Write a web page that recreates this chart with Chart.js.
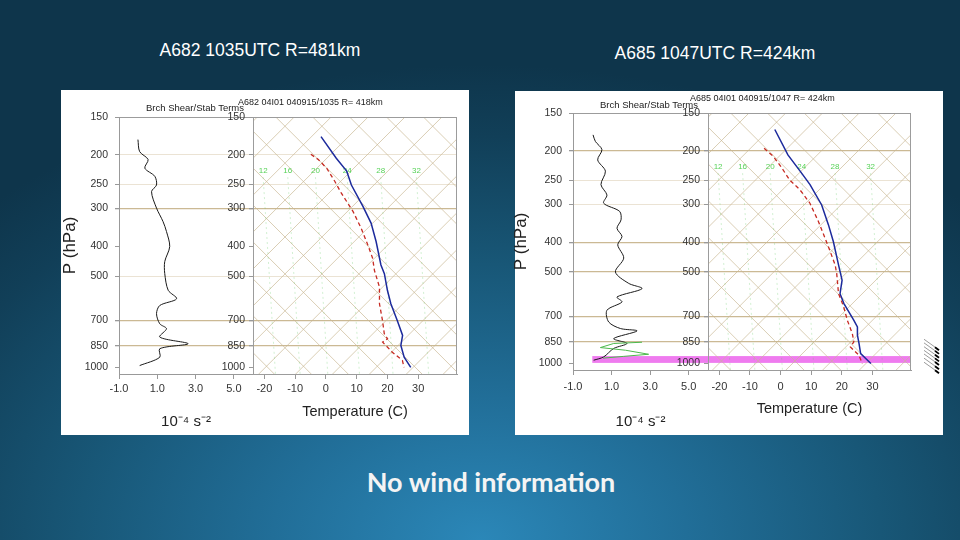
<!DOCTYPE html>
<html>
<head>
<meta charset="utf-8">
<script src="https://cdn.jsdelivr.net/npm/chart.js@4.4.1/dist/chart.umd.min.js"></script>
<style>
  html, body { margin: 0; width: 960px; height: 540px; overflow: hidden; }
  body {
    position: relative;
    font-family: 'Liberation Sans', Arial, sans-serif;
    background: radial-gradient(ellipse 72% 88% at 50% 100%, #2b87b8 0%, #216e98 30%, #185777 58%, #113f58 85%, #0e354b 100%);
  }
  .panel { position: absolute; background: #fff; }
  .title { position: absolute; color: #fff; font-size: 17.5px; white-space: nowrap; transform: translate(-50%, -50%); }
  .note { position: absolute; color: #f4f4f4; font: bold 27px Lato, 'Open Sans', sans-serif; white-space: nowrap; transform: translate(-50%, -50%); }
  .hdr { position: absolute; color: #222; white-space: nowrap; line-height: 11px; }
  canvas { position: absolute; }
</style>
</head>
<body>
<div class="title" style="left:260px;top:50px">A682 1035UTC R=481km</div>
<div class="title" style="left:715px;top:53px">A685 1047UTC R=424km</div>

<div class="panel" style="left:61px;top:90px;width:408px;height:345px"></div>
<div class="panel" style="left:515px;top:91px;width:428px;height:344px"></div>

<canvas id="shearL" width="410" height="345" style="left:60px;top:90px"></canvas>
<canvas id="skewL" width="410" height="345" style="left:60px;top:90px"></canvas>
<canvas id="shearR" width="434" height="347" style="left:511px;top:88px"></canvas>
<canvas id="skewR" width="434" height="347" style="left:511px;top:88px"></canvas>

<div class="hdr" style="left:146px;top:102px;font-size:9.5px">Brch Shear/Stab Terms</div>
<div class="hdr" style="left:238px;top:97px;font-size:9px">A682 04I01 040915/1035 R= 418km</div>
<div class="hdr" style="left:600px;top:99px;font-size:9.5px">Brch Shear/Stab Terms</div>
<div class="hdr" style="left:690px;top:93px;font-size:9px">A685 04I01 040915/1047 R= 424km</div>

<div class="note" style="left:491px;top:481px">No wind information</div>

<script>
// ── data ────────────────────────────────────────────────────────────────────
const pressureTicks = [150, 200, 250, 300, 400, 500, 700, 850, 1000];
const shearTicks = [-1, 1, 3, 5];
const tempTicks = [-20, -10, 0, 10, 20, 30];

// A682: Brch shear/stab term (1e-4 s-2) against pressure (hPa)
const leftShearP = [178, 195, 207, 221, 235, 251, 264, 299, 331, 357, 400, 448, 491, 557, 594, 625, 665, 718, 745, 794, 835, 867, 925, 985];
const leftShearV = [-0.01, 0.08, 0.52, 0.35, 0.87, 0.96, 0.70, 0.96, 1.30, 1.48, 1.65, 1.39, 1.39, 1.57, 2.01, 1.13, 0.96, 1.13, 1.48, 1.13, 2.61, 1.13, 1.13, 0.08];

// A685
const rightShearP = [177, 186, 198, 214, 233, 258, 279, 297, 316, 337, 359, 382, 407, 450, 500, 545, 567, 604, 627, 668, 730, 767, 781, 828, 859, 892, 951, 975];
const rightShearV = [0.04, 0.16, 0.50, 0.28, 0.68, 0.45, 0.76, 0.59, 1.42, 1.49, 1.28, 1.54, 1.32, 1.63, 1.20, 1.89, 2.58, 1.28, 1.54, 0.76, 0.85, 1.46, 2.32, 1.11, 1.80, 1.11, 0.59, 0.07];
const rightGreenP = [851, 859, 886, 904, 932, 947, 960];
const rightGreenV = [2.58, 1.11, 0.42, 1.72, 2.92, 1.63, 0.56];

// soundings: temperature (blue) and dashed red profile, deg C
const leftTempP = [174, 205, 226, 251, 295, 335, 385, 460, 491, 557, 617, 700, 784, 846, 925, 998];
const leftTempT = [-62.8, -52.1, -45.3, -40.1, -30.7, -23.6, -17.1, -9.3, -5.9, -0.5, 4.2, 10.7, 16.4, 18.5, 22.7, 27.5];
const leftDewP = [199, 207, 221, 244, 267, 307, 348, 395, 437, 479, 544, 617, 700, 774, 804, 825, 890, 948, 998];
const leftDewT = [-61.4, -57.6, -52.6, -46.5, -41.2, -32.5, -25.5, -18.9, -13.8, -10.0, -3.9, 0.5, 5.9, 10.0, 12.4, 11.7, 17.5, 23.0, 25.3];

const rightTempP = [170, 206, 233, 258, 301, 350, 397, 474, 532, 589, 634, 720, 758, 807, 859, 927, 1000];
const rightTempT = [-63.9, -52.9, -44.6, -37.8, -28.6, -21.1, -15.1, -7.2, -2.0, 0.9, 4.7, 12.4, 15.4, 17.6, 20.3, 23.5, 29.5];
const rightDewP = [196, 208, 225, 249, 268, 297, 341, 387, 428, 474, 506, 589, 651, 720, 797, 849, 882, 939, 1000];
const rightDewT = [-62.4, -57.4, -52.1, -45.7, -39.8, -32.9, -25.3, -18.7, -13.5, -8.3, -5.5, 0.4, 5.6, 10.3, 15.5, 18.2, 18.4, 23.4, 26.7];

// green labels on the diagram (value, and the skewed-axis value where it sits at 226 hPa)
const thetaLabels = [12, 16, 20, 24, 28, 32];
const thetaLabelX = [-20.4, -12.4, -3.4, 6.9, 17.8, 29.4];
const thetaLabelP = 226;

// wind barb levels drawn right of the A685 diagram
const windLevels = [832, 855, 880, 905, 930, 960, 990];

const SKEW = 35;        // deg C per ln(p) used to skew the temperature axis
const DIAG_STEP = 12;   // spacing of each diagonal family, on the axis
const DIAG_TOP = -22.3; // where one diagonal meets the top edge

Chart.defaults.font.family = "'Liberation Sans', Arial, sans-serif";
Chart.defaults.color = '#333';
Chart.defaults.animation = false;

function skewPoints(P, T) {
  return P.map((p, i) => ({ x: T[i] + SKEW * Math.log(1000 / p), y: p }));
}
function plainPoints(P, V) {
  return P.map((p, i) => ({ x: V[i], y: p }));
}

function levelColor(v, strong, faint) {
  if (v === 150) return '#9c9c9c';
  if (strong.includes(v)) return '#cbb994';
  if (faint.includes(v)) return '#ebe3d4';
  return 'rgba(0,0,0,0)';
}

function pressureAxis(o) {
  return {
    type: 'logarithmic', position: 'left', reverse: true, min: 150, max: 1050, bounds: 'data',
    afterBuildTicks: s => { s.ticks = pressureTicks.map(v => ({ value: v })); },
    afterFit: s => { s.width = o.yWidth; },
    ticks: { callback: v => String(v), font: { size: 10.5 }, color: '#333', padding: o.yTickPad, autoSkip: false },
    grid: {
      color: c => levelColor(c.tick ? c.tick.value : 0, o.strong, o.faint),
      lineWidth: c => (c.tick && o.strong.includes(c.tick.value)) ? 1.3 : 1,
      tickColor: '#999', tickLength: 4
    },
    border: { color: '#999' },
    title: o.yTitle
      ? { display: true, text: 'P (hPa)', font: { size: 17 }, color: '#222', padding: 0 }
      : { display: false }
  };
}

function bottomAxis(o) {
  return {
    type: 'linear', position: 'bottom', min: o.min, max: o.max, bounds: 'data',
    afterBuildTicks: s => { s.ticks = o.ticks.map(v => ({ value: v })); },
    afterFit: s => { s.height = o.xHeight; },
    ticks: { callback: o.fmt, font: { size: 11 }, color: '#333', padding: o.xTickPad, maxRotation: 0, autoSkip: false },
    grid: { drawOnChartArea: false, tickLength: 5, color: '#999' },
    border: { color: '#999' },
    title: { display: true, text: o.title, font: { size: o.titleSize }, color: '#222', padding: { top: 0, bottom: o.titlePad } }
  };
}

// ── plugins ────────────────────────────────────────────────────────────────
function drawBand(chart, band, fromValue) {
  if (!band) return;
  const { ctx, chartArea: a, scales: { x, y } } = chart;
  const x0 = fromValue == null ? a.left : x.getPixelForValue(fromValue);
  const y0 = y.getPixelForValue(band[0]);
  const y1 = y.getPixelForValue(band[1]);
  ctx.fillStyle = '#ef7bef';
  ctx.fillRect(x0, y0, a.right - x0, y1 - y0);
}

const shearDecor = {
  id: 'shearDecor',
  beforeDatasetsDraw(chart, args, o) {
    drawBand(chart, o.band, 0);
  }
};

const skewDecor = {
  id: 'skewDecor',
  beforeDatasetsDraw(chart, args, o) {
    const { ctx, chartArea: a, scales: { x, y } } = chart;
    ctx.save();
    ctx.beginPath();
    ctx.rect(a.left, a.top, a.width, a.height);
    ctx.clip();
    drawBand(chart, o.band, null);

    // diagonal grid: one family leaning right, the other leaning left, offset by half a step
    const h = a.bottom - a.top;
    ctx.strokeStyle = 'rgba(200,182,145,0.85)';
    ctx.lineWidth = 0.8;
    for (let t = DIAG_TOP - 120; t <= DIAG_TOP + 150; t += DIAG_STEP) {
      const p1 = x.getPixelForValue(t);
      const p2 = x.getPixelForValue(t + DIAG_STEP / 2);
      ctx.beginPath();
      ctx.moveTo(p1 - h, a.bottom);
      ctx.lineTo(p1, a.top);
      ctx.moveTo(p2, a.top);
      ctx.lineTo(p2 + h, a.bottom);
      ctx.stroke();
    }

    // faint green reference curves and their labels
    const ly = y.getPixelForValue(thetaLabelP);
    ctx.setLineDash([2, 3]);
    ctx.strokeStyle = 'rgba(90,200,90,0.35)';
    ctx.lineWidth = 0.8;
    thetaLabelX.forEach(v => {
      ctx.beginPath();
      ctx.moveTo(x.getPixelForValue(v), ly + 6);
      ctx.lineTo(x.getPixelForValue(v + 4), a.bottom);
      ctx.stroke();
    });
    ctx.setLineDash([]);
    ctx.fillStyle = '#58d258';
    ctx.font = "8px 'Liberation Sans', Arial, sans-serif";
    ctx.textAlign = 'center';
    ctx.textBaseline = 'middle';
    thetaLabels.forEach((lab, i) => ctx.fillText(String(lab), x.getPixelForValue(thetaLabelX[i]), ly));
    ctx.restore();
  },
  afterDraw(chart, args, o) {
    const { ctx, chartArea: a, scales: { y } } = chart;
    ctx.save();
    ctx.strokeStyle = '#9c9c9c';
    ctx.lineWidth = 1;
    ctx.strokeRect(a.left + 0.5, a.top + 0.5, a.width - 1, a.height);
    if (o.wind) {
      o.wind.forEach(p => {
        const y0 = y.getPixelForValue(p);
        ctx.strokeStyle = '#555';
        ctx.lineWidth = 0.6;
        ctx.beginPath();
        ctx.moveTo(a.right + 13, y0);
        ctx.lineTo(a.right + 27, y0 + 10);
        ctx.stroke();
        ctx.strokeStyle = '#000';
        ctx.lineWidth = 1.8;
        ctx.beginPath();
        ctx.moveTo(a.right + 24, y0 + 8);
        ctx.lineTo(a.right + 28, y0 + 11);
        ctx.stroke();
      });
    }
    ctx.restore();
  }
};

// ── chart builders ─────────────────────────────────────────────────────────
function makeShear(id, o, datasets) {
  new Chart(document.getElementById(id), {
    type: 'scatter',
    data: { datasets: datasets },
    options: {
      responsive: false,
      layout: { padding: { top: o.padTop, right: o.padRight, bottom: 0, left: 0 } },
      plugins: { legend: { display: false }, tooltip: { enabled: false }, shearDecor: { band: o.band } },
      scales: {
        x: bottomAxis({ min: -1, max: 6, ticks: shearTicks, fmt: v => v.toFixed(1), xHeight: o.xHeight,
                        xTickPad: o.xTickPad, title: '10\u207B\u2074 s\u207B\u00B2', titleSize: 15, titlePad: o.titlePad }),
        y: pressureAxis({ yWidth: o.yWidth, yTickPad: 7, strong: o.strong, faint: o.faint, yTitle: true })
      }
    },
    plugins: [shearDecor]
  });
}

function makeSkew(id, o, datasets) {
  new Chart(document.getElementById(id), {
    type: 'scatter',
    data: { datasets: datasets },
    options: {
      responsive: false,
      layout: { padding: { top: o.padTop, right: o.padRight, bottom: 0, left: 0 } },
      plugins: { legend: { display: false }, tooltip: { enabled: false }, skewDecor: { band: o.band, wind: o.wind } },
      scales: {
        x: bottomAxis({ min: -23.7, max: 42.6, ticks: tempTicks, fmt: v => String(v), xHeight: o.xHeight,
                        xTickPad: o.xTickPad, title: 'Temperature (C)', titleSize: 14.5, titlePad: o.titlePad }),
        y: pressureAxis({ yWidth: o.yWidth, yTickPad: 4, strong: o.strong, faint: o.faint, yTitle: false })
      }
    },
    plugins: [skewDecor]
  });
}

function lineSet(points, color, width, dash, tension) {
  return { data: points, showLine: true, borderColor: color, borderWidth: width, borderDash: dash,
           pointRadius: 0, tension: tension, fill: false };
}

const leftStrong = [300, 700, 850], leftFaint = [200, 250, 500];
const rightStrong = [200, 400, 500, 700, 850], rightFaint = [250, 300];

makeShear('shearL', { padTop: 27, padRight: 217, yWidth: 59, xHeight: 61, xTickPad: 3, titlePad: 4,
                      strong: leftStrong, faint: leftFaint },
  [lineSet(plainPoints(leftShearP, leftShearV), '#1a1a1a', 1, [], 0.3)]);

makeSkew('skewL', { padTop: 27, padRight: 13, yWidth: 193, xHeight: 61, xTickPad: 3, titlePad: 14,
                    strong: leftStrong, faint: leftFaint },
  [lineSet(skewPoints(leftDewP, leftDewT), '#c62a22', 1.3, [4, 3], 0),
   lineSet(skewPoints(leftTempP, leftTempT), '#1c2a9c', 1.5, [], 0)]);

makeShear('shearR', { padTop: 25, padRight: 237, yWidth: 62, xHeight: 65, xTickPad: 5, titlePad: 4,
                      strong: rightStrong, faint: rightFaint, band: [945, 995] },
  [lineSet(plainPoints(rightGreenP, rightGreenV), '#4cb84c', 1, [], 0),
   lineSet(plainPoints(rightShearP, rightShearV), '#1a1a1a', 1, [], 0.3)]);

makeSkew('skewR', { padTop: 25, padRight: 34, yWidth: 197, xHeight: 65, xTickPad: 5, titlePad: 17,
                    strong: rightStrong, faint: rightFaint, band: [945, 995], wind: windLevels },
  [lineSet(skewPoints(rightDewP, rightDewT), '#c62a22', 1.3, [4, 3], 0),
   lineSet(skewPoints(rightTempP, rightTempT), '#1c2a9c', 1.5, [], 0)]);
</script>
</body>
</html>
